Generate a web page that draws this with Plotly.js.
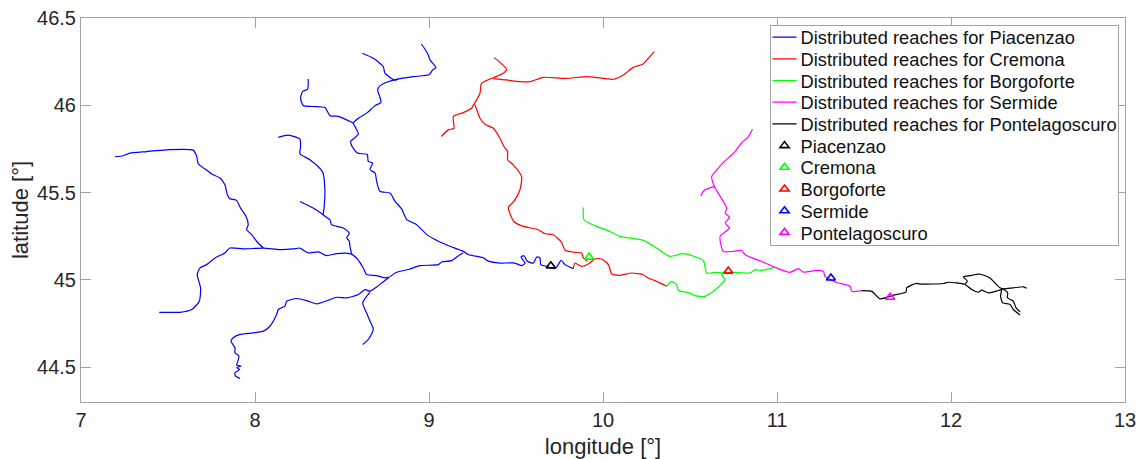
<!DOCTYPE html>
<html><head><meta charset="utf-8">
<script src="https://cdn.plot.ly/plotly-3.0.1.min.js"></script>
<style>html,body{margin:0;padding:0;background:#fff}</style></head>
<body><div id="chart" style="width:1146px;height:459px"></div>
<script>
const reachNames=["Distributed reaches for Piacenzao","Distributed reaches for Cremona","Distributed reaches for Borgoforte","Distributed reaches for Sermide","Distributed reaches for Pontelagoscuro"];
const reachColors=["#0000ff","#ff0000","#00ff00","#ff00ff","#000000"];
const piacenzaLon=[8.956,8.977,8.996,9.006,9.021,9.040,9.021,9.002,8.910,8.824,8.757,8.718,8.705,8.718,8.724,8.690,8.642,8.594,8.565,8.580,8.594,8.575,8.550,8.556,8.588,8.645,8.651,8.676,8.661,8.690,8.699,8.718,8.776,8.805,8.843,8.872,8.929,8.987,9.054,9.121,9.197,9.226,9.255,9.312,9.341,9.408,9.494,9.533,9.552,9.529,9.546,9.565,9.600,9.619,9.638,9.642,9.676,9.724,9.743,9.759,9.782,9.829,null,
9.197,9.178,9.130,9.073,9.053,8.948,8.881,8.814,8.766,8.728,8.699,8.661,8.632,8.594,8.527,8.469,8.421,8.354,8.297,8.239,8.182,8.172,8.134,8.124,8.086,8.048,7.990,7.914,7.875,7.862,7.885,7.885,7.908,7.900,7.895,7.919,7.895,7.912,7.885,7.889,7.914,null,
8.661,8.619,8.641,8.661,8.680,8.651,8.619,null,
7.450,7.511,7.569,7.636,7.680,7.687,7.668,7.684,7.722,7.770,7.827,7.856,7.933,8.048,8.143,8.220,8.258,8.306,8.364,8.412,8.469,8.546,8.584,8.622,8.641,8.699,8.747,8.766,null,
7.195,7.243,7.281,7.377,7.492,7.645,7.665,7.674,7.732,7.751,7.799,7.827,7.841,7.856,7.894,7.917,7.948,7.961,7.952,7.981,8.009,8.048,null,
8.134,8.191,8.258,8.262,8.258,8.316,8.389,8.402,8.396,8.392,8.431,8.440,8.507,8.542,8.527,8.542,8.546,8.555,null,
8.258,8.335,8.392,null,
8.617,8.680,8.737,8.747,8.804,8.824,null,
8.306,8.302,8.274,8.262,8.277,8.335,8.402,8.431,8.479,8.565];
const piacenzaLat=[46.351,46.321,46.288,46.260,46.241,46.216,46.203,46.176,46.164,46.151,46.132,46.111,46.088,46.046,46.016,45.998,45.955,45.926,45.898,45.869,45.836,45.815,45.793,45.768,45.726,45.718,45.678,45.669,45.631,45.612,45.564,45.507,45.497,45.449,45.406,45.345,45.316,45.259,45.221,45.192,45.163,45.144,45.138,45.126,45.107,45.096,45.096,45.081,45.096,45.131,45.138,45.106,45.096,45.131,45.125,45.087,45.077,45.064,45.087,45.112,45.087,45.064,null,
45.154,45.144,45.110,45.102,45.087,45.081,45.059,45.043,45.011,44.982,44.959,44.935,44.944,44.916,44.896,44.900,44.883,44.862,44.881,44.893,44.877,44.849,44.830,44.801,44.734,44.706,44.696,44.687,44.668,44.649,44.610,44.582,44.563,44.530,44.511,44.506,44.496,44.487,44.467,44.448,44.435,null,
44.929,44.868,44.811,44.763,44.715,44.658,44.629,null,
44.814,44.814,44.814,44.830,44.877,44.954,45.030,45.068,45.087,45.125,45.154,45.182,45.177,45.182,45.173,45.177,45.182,45.154,45.160,45.139,45.150,45.150,45.125,45.068,45.030,45.024,45.011,45.015,null,
45.705,45.711,45.726,45.735,45.745,45.743,45.707,45.665,45.621,45.606,45.583,45.545,45.488,45.465,45.455,45.411,45.364,45.316,45.287,45.259,45.221,45.182,null,
45.816,45.829,45.806,45.764,45.722,45.688,45.617,45.507,45.402,45.373,45.344,45.316,45.297,45.268,45.240,45.221,45.192,45.150,null,
45.449,45.411,45.373,null,
46.298,46.269,46.222,46.184,46.144,46.151,null,
46.151,46.092,46.079,46.041,45.999,45.993,45.987,45.940,45.936,45.898];
const cremonaLon=[10.295,10.260,10.228,10.174,10.117,10.059,9.954,9.906,9.781,9.657,9.580,9.523,9.446,9.370,null,
9.375,9.446,9.427,9.370,9.302,9.293,9.260,null,
9.071,9.111,9.143,9.140,9.197,9.245,9.260,9.293,9.322,9.370,9.408,9.431,9.452,9.452,9.484,9.532,9.523,9.488,9.456,9.488,9.542,9.628,9.667,9.714,9.762,9.782,9.839,9.877,9.887,9.910,null,
9.829,9.839,9.877,9.916,9.954,9.992,10.031,10.050,10.098,10.165,10.232,10.260,10.308,10.366];
const cremonaLat=[46.307,46.269,46.235,46.217,46.174,46.149,46.160,46.164,46.154,46.160,46.135,46.135,46.145,46.153,null,
46.273,46.206,46.183,46.158,46.126,46.069,46.008,null,
45.821,45.859,45.868,45.935,45.958,45.983,46.008,45.926,45.891,45.868,45.811,45.764,45.735,45.687,45.659,45.592,45.516,45.449,45.415,45.334,45.306,45.287,45.264,45.258,45.215,45.169,45.157,45.154,45.125,45.106,null,
45.064,45.096,45.077,45.091,45.119,45.119,45.087,45.035,45.026,45.039,45.029,45.010,44.991,44.963];
const borgoforteLon=[10.366,10.394,10.423,10.433,10.500,10.528,10.586,10.634,10.668,10.701,10.682,10.691,null,
9.887,9.891,9.963,10.040,10.097,10.232,10.308,10.385,10.461,10.576,10.596,10.653,10.691,10.749,10.845,10.874,10.903,10.999];
const borgoforteLat=[44.963,44.991,44.972,44.940,44.924,44.909,44.905,44.934,44.963,45.001,45.029,45.039,null,
45.415,45.344,45.306,45.277,45.249,45.226,45.182,45.134,45.150,45.111,45.039,45.043,45.039,45.043,45.039,45.058,45.054,45.073];
const sermideLon=[10.859,10.836,10.797,10.759,10.692,10.625,10.640,10.711,10.702,10.727,10.702,10.727,10.673,10.692,10.750,10.797,10.817,10.912,10.999,11.075,11.123,11.152,11.228,11.267,11.276,11.343,11.420,11.430,11.487,null,
10.562,10.581,10.640];
const sermideLat=[45.863,45.821,45.786,45.735,45.672,45.592,45.535,45.411,45.382,45.359,45.325,45.296,45.249,45.163,45.163,45.168,45.144,45.105,45.067,45.043,45.064,45.044,45.054,45.048,45.020,44.985,44.963,44.934,44.938,null,
45.481,45.512,45.535];
const pontelagoscuroLon=[11.487,11.545,11.592,11.669,11.741,11.745,11.799,11.831,11.956,11.985,12.081,12.119,12.157,12.176,12.215,12.272,12.301,12.358,12.416,12.435,null,
12.081,12.094,12.071,12.109,12.167,12.224,12.253,12.282,12.310,null,
12.291,12.285,12.297,12.339,12.358,12.397,null,
12.305,12.326,12.324,12.358,12.374,12.397];
const pontelagoscuroLat=[44.938,44.934,44.891,44.912,44.929,44.954,44.979,44.975,44.979,44.986,44.973,44.944,44.929,44.941,44.925,44.939,44.948,44.954,44.960,44.952,null,
44.977,44.992,45.017,45.024,45.032,45.011,44.982,44.954,44.944,null,
44.941,44.906,44.868,44.859,44.830,44.798,null,
44.944,44.925,44.897,44.878,44.839,44.817];
const stationNames=["Piacenzao","Cremona","Borgoforte","Sermide","Pontelagoscuro"];
const stationColors=["#000000","#00ff00","#ff0000","#0000ff","#ff00ff"];
const stationLon=[9.70,9.92,10.72,11.31,11.65];
const stationLat=[45.08,45.13,45.05,45.01,44.90];
const reachLon=[piacenzaLon,cremonaLon,borgoforteLon,sermideLon,pontelagoscuroLon];
const reachLat=[piacenzaLat,cremonaLat,borgoforteLat,sermideLat,pontelagoscuroLat];
const traces=[];
reachNames.forEach((n,i)=>traces.push({type:'scatter',mode:'lines',name:n,x:reachLon[i],y:reachLat[i],
  line:{color:reachColors[i],width:1.2,shape:'spline',smoothing:0.6},connectgaps:false,hoverinfo:'skip'}));
stationNames.forEach((n,i)=>traces.push({type:'scatter',mode:'markers',name:n,x:[stationLon[i]],y:[stationLat[i]],
  marker:{symbol:'triangle-up-open',size:8,color:stationColors[i],line:{color:stationColors[i],width:1.6}},hoverinfo:'skip'}));
const axis={showgrid:false,zeroline:false,showline:true,linecolor:'#a3a3a3',linewidth:1,mirror:'allticks',ticks:'inside',ticklen:10,tickwidth:1,tickcolor:'#a3a3a3',
  tickfont:{family:'"Liberation Sans",Arial,sans-serif',size:20,color:'#262626'}};
const layout={width:1146,height:459,margin:{l:81,r:21,t:18,b:57},paper_bgcolor:'#fff',plot_bgcolor:'#fff',
  font:{family:'"Liberation Sans",Arial,sans-serif',color:'#262626'},
  xaxis:Object.assign({},axis,{range:[7,13],dtick:1,tick0:7,title:{text:'longitude [°]',font:{size:22,color:'#262626'},standoff:8}}),
  yaxis:Object.assign({},axis,{range:[44.3,46.5],dtick:0.5,tick0:44.5,title:{text:'latitude [°]',font:{size:22,color:'#262626'},standoff:2}}),
  legend:{x:0.6595,y:0.9815,xanchor:'left',yanchor:'top',bgcolor:'#fff',bordercolor:'#a3a3a3',borderwidth:1,
    font:{size:18.3,color:'#111'},tracegroupgap:0,itemwidth:30,traceorder:'normal'},
  showlegend:true};
Plotly.newPlot('chart',traces,layout,{displayModeBar:false,staticPlot:true}).then(gd=>{
  // MATLAB-style compact legend: tighter rows and shorter samples than Plotly's defaults.
  const rowStep=21.7, firstRow=12, boxW=348, boxH=219.5;
  gd.querySelectorAll('.legend .traces').forEach((g,i)=>{
    g.setAttribute('transform','translate(0,'+(firstRow+i*rowStep)+')');
    g.querySelectorAll('.legendlines path').forEach(p=>p.setAttribute('d','M3,0h24'));
    g.querySelectorAll('.legendsymbols .legendpoints path').forEach(p=>p.setAttribute('transform','translate(15,0)'));
    const t=g.querySelector('.legendtext'); if(t) t.setAttribute('x',31);
  });
  gd.querySelectorAll('.legend rect.bg').forEach(r=>{r.setAttribute('width',boxW);r.setAttribute('height',boxH);});
  document.querySelectorAll('clipPath[id^="legend"] rect').forEach(r=>{r.setAttribute('width',boxW);r.setAttribute('height',boxH);});
});
</script></body></html>
